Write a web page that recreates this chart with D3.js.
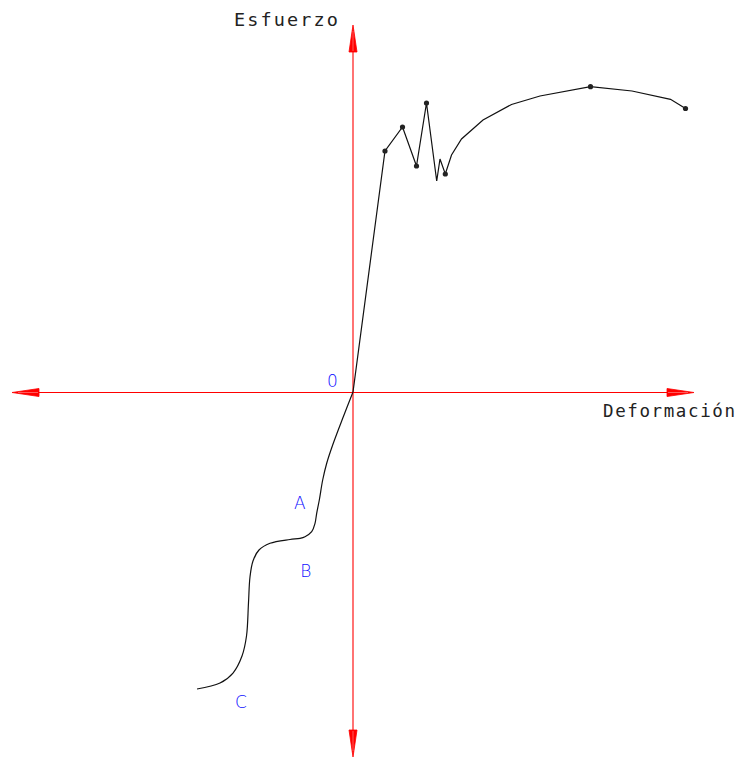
<!DOCTYPE html>
<html>
<head>
<meta charset="utf-8">
<script src="https://cdn.jsdelivr.net/npm/d3@7"></script>
<style>
  html, body { margin: 0; padding: 0; background: #ffffff; }
  svg { display: block; }
</style>
</head>
<body>
<div id="chart"></div>
<script>
// ---- Data (strain / stress in arbitrary units, origin = 0) ----
const tensionStrain = [0, 9.38, 14.52, 18.62, 21.55, 24.55, 25.51, 27.07, 28.89, 31.82, 38.12, 46.48, 54.84, 69.65, 81.82, 93.11, 97.51];
const tensionStress = [0, 66.03, 72.60, 61.92, 79.18, 57.81, 63.84, 59.73, 64.93, 69.32, 74.52, 78.77, 81.10, 83.64, 82.47, 80.19, 77.67];
const markedPoints = [1, 2, 3, 4, 7, 13, 16];

const compressionStrain = [0, -2.84, -5.78, -7.71, -8.89, -9.88, -10.65, -11.14, -12.11, -14.08, -15.54, -18.48, -24.34, -27.57, -29.33, -30.21, -30.65, -31.23, -32.55, -35.19, -39.00, -45.75];
const compressionStress = [0, -6.77, -14.05, -19.53, -24.11, -29.59, -33.23, -35.97, -38.27, -39.64, -40.08, -40.41, -41.45, -43.29, -46.30, -50.68, -57.81, -66.85, -72.33, -76.99, -79.73, -81.37];

const pointLabels = ["0", "A", "B", "C"];
const pointLabelStrain = [-7.6, -17.3, -15.5, -34.6];
const pointLabelStress = [1.4, -32.1, -50.7, -86.6];

const xAxisTitle = "Deformación";
const yAxisTitle = "Esfuerzo";

// ---- Layout ----
const W = 737, H = 759;
const x = d3.scaleLinear().domain([-100, 100]).range([12, 694]);
const y = d3.scaleLinear().domain([-100, 100]).range([757, 27]);

const svg = d3.select("#chart").append("svg")
  .attr("width", W).attr("height", H);

const red = "#ff0000";
const x0 = x(0), y0 = y(0);

// axes lines
svg.append("line")
  .attr("x1", x(-100) + 20).attr("x2", x(100) - 20)
  .attr("y1", y0 + 0.5).attr("y2", y0 + 0.5)
  .attr("stroke", red).attr("stroke-width", 1);
svg.append("line")
  .attr("x1", x0).attr("x2", x0)
  .attr("y1", y(100) + 20).attr("y2", y(-100) - 20)
  .attr("stroke", red).attr("stroke-width", 1.1);

// arrowheads
function arrow(tipX, tipY, dx, dy) {
  const len = 27, half = 4;
  const bx = tipX - dx * len, by = tipY - dy * len;
  const px = -dy * half, py = dx * half;
  svg.append("path")
    .attr("d", `M${tipX},${tipY}L${bx + px},${by + py}L${bx - px},${by - py}Z`)
    .attr("fill", red).attr("stroke", red).attr("stroke-width", 0.8);
  svg.append("line")
    .attr("x1", tipX - dx * 6).attr("y1", tipY - dy * 6)
    .attr("x2", bx + dx * 1).attr("y2", by + dy * 1)
    .attr("stroke", "#ffffff").attr("stroke-width", 0.6).attr("opacity", 0.6);
}
arrow(x(-100), y0 + 0.5, -1, 0);
arrow(x(100), y0 + 0.5, 1, 0);
arrow(x0, y(100) - 2, 0, -1);
arrow(x0, y(-100), 0, 1);

// tension curve
const tension = tensionStrain.map((d, i) => [d, tensionStress[i]]);
svg.append("path")
  .datum(tension)
  .attr("d", d3.line().x(d => x(d[0])).y(d => y(d[1])))
  .attr("fill", "none").attr("stroke", "#111").attr("stroke-width", 1.2);

svg.selectAll("circle.pt")
  .data(markedPoints.map(i => tension[i]))
  .enter().append("circle")
  .attr("class", "pt")
  .attr("cx", d => x(d[0])).attr("cy", d => y(d[1]))
  .attr("r", 2.6).attr("fill", "#222");

// compression curve
const compression = compressionStrain.map((d, i) => [d, compressionStress[i]]);
svg.append("path")
  .datum(compression)
  .attr("d", d3.line().curve(d3.curveCatmullRom.alpha(0.5)).x(d => x(d[0])).y(d => y(d[1])))
  .attr("fill", "none").attr("stroke", "#111").attr("stroke-width", 1.2);

// point labels
svg.selectAll("text.lbl")
  .data(pointLabels)
  .enter().append("text")
  .attr("class", "lbl")
  .attr("x", (d, i) => x(pointLabelStrain[i]))
  .attr("y", (d, i) => y(pointLabelStress[i]))
  .attr("font-family", "'DejaVu Sans', sans-serif").attr("font-size", 17)
  .attr("font-weight", 200)
  .attr("fill", "#1010ff")
  .text(d => d);

// axis titles
const font = "'DejaVu Sans Mono', monospace";
svg.append("text")
  .attr("x", 234).attr("y", 26)
  .attr("font-family", font).attr("font-size", 18.5)
  .attr("fill", "#222")
  .attr("textLength", 104).attr("lengthAdjust", "spacing")
  .text(yAxisTitle);
svg.append("text")
  .attr("x", 603).attr("y", 417)
  .attr("font-family", font).attr("font-size", 17.5)
  .attr("fill", "#222")
  .attr("textLength", 132).attr("lengthAdjust", "spacing")
  .text(xAxisTitle);
</script>
</body>
</html>
